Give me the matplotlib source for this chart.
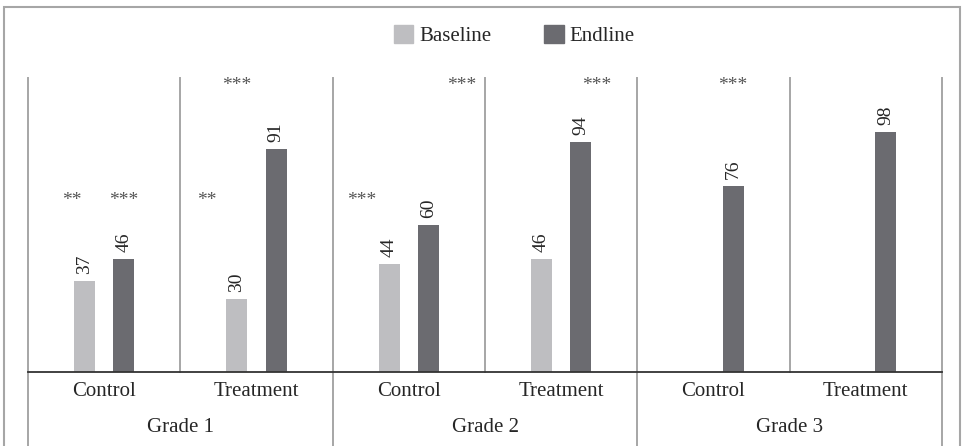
import matplotlib

matplotlib.use("Agg")

import matplotlib.pyplot as plt
import numpy as np
from matplotlib.patches import Patch, Rectangle
from matplotlib.transforms import blended_transform_factory

plt.rcParams["font.family"] = ["Liberation Serif", "DejaVu Serif"]

# data
grades = ["Grade 1", "Grade 2", "Grade 3"]
arms = ["Control", "Treatment"]
baseline = [37, 30, 44, 46, np.nan, np.nan]
endline = [46, 91, 60, 94, 76, 98]
series_names = ["Baseline", "Endline"]
stars = ["**", "***", "**", "***", "***", "***", "***", "***"]

# layout of significance marks (x in group units, y in value units)
star_xy = [
    (-0.211, 69.8), (0.130, 69.8), (0.675, 69.8), (0.872, 116.8),
    (1.693, 69.8), (2.349, 116.8), (3.235, 116.8), (4.128, 116.8),
]

C_BASE = "#bebec1"
C_END = "#6b6b70"
C_TEXT = "#262626"
C_SEP = "#a6a6a6"

fig = plt.figure(figsize=(9.63, 4.46), dpi=100)
ax = fig.add_axes([28 / 963, 74 / 446, 914 / 963, 294 / 446])

n = len(endline)
x = np.arange(n)
off, width = 0.13, 0.138
ax.bar(x - off, baseline, width, color=C_BASE)
ax.bar(x + off, endline, width, color=C_END)

for xi, v in zip(x - off, baseline):
    if not np.isnan(v):
        ax.annotate(f"{v:.0f}", (xi, v), xytext=(0, 5), textcoords="offset points",
                    rotation=90, ha="center", va="bottom", fontsize=14, color=C_TEXT)
for xi, v in zip(x + off, endline):
    ax.annotate(f"{v:.0f}", (xi, v), xytext=(0, 5), textcoords="offset points",
                rotation=90, ha="center", va="bottom", fontsize=14, color=C_TEXT)

for (sx, sy), s in zip(star_xy, stars):
    ax.text(sx, sy, s, ha="center", va="center", fontsize=14, color="#555555")

ax.set_xlim(-0.5, n - 0.5)
ax.set_ylim(0, 120)
for sp in ax.spines.values():
    sp.set_visible(False)
ax.set_xticks([])
ax.set_yticks([])
ax.axhline(0, color="#333333", lw=1.3, clip_on=False)

tr = blended_transform_factory(ax.transData, ax.transAxes)
for b in np.arange(-0.5, n, 1.0):
    grade_edge = int(round(b + 0.5)) % 2 == 0
    y0 = -0.3 if grade_edge else 0
    ax.plot([b, b], [y0, 1], transform=tr, color=C_SEP, lw=1.4, clip_on=False, zorder=0)

for i in range(n):
    ax.text(i, -0.068, arms[i % 2], transform=tr, ha="center", va="center",
            fontsize=15, color=C_TEXT)
for g, name in enumerate(grades):
    ax.text(2 * g + 0.5, -0.188, name, transform=tr, ha="center", va="center",
            fontsize=15, color=C_TEXT)

handles = [Patch(color=C_BASE), Patch(color=C_END)]
fig.legend(handles, series_names, loc="center", bbox_to_anchor=(0.534, 0.921), ncol=2,
           frameon=False, fontsize=15, handlelength=0.95, handleheight=0.95,
           handletextpad=0.3, columnspacing=2.5, labelcolor=C_TEXT)

fig.patches.append(Rectangle((4 / 963, -0.1), 956 / 963, 1.1 - 7 / 446, transform=fig.transFigure,
                             fill=False, edgecolor="#a6a6a6", lw=1.5))

fig.savefig("out.png", dpi=100)
